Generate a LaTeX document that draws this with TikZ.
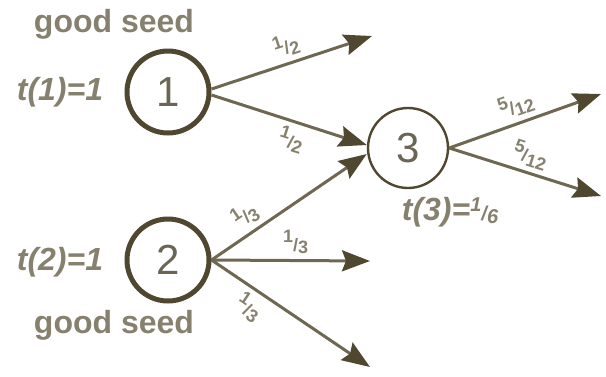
\documentclass[tikz,border=0pt]{standalone}
\usepackage{fontspec}
\setmainfont{Liberation Sans}
\usetikzlibrary{arrows.meta}
\definecolor{ink}{HTML}{4F4730}
\definecolor{lineC}{HTML}{6E6752}
\definecolor{txt}{HTML}{86806E}
\definecolor{num}{HTML}{6A6554}
\newcommand{\myfr}[2]{\raisebox{0.45em}{#1}/\raisebox{-0.15em}{#2}}
\tikzset{
  seed/.style={circle, draw=ink, line width=5pt, minimum size=82pt, inner sep=0pt,
    font=\fontsize{42}{42}\selectfont, text=num},
  plain/.style={circle, draw=ink, line width=2.4pt, minimum size=80pt, inner sep=0pt,
    font=\fontsize{42}{42}\selectfont, text=num},
  edge/.style={draw=lineC, line width=3pt,
    -{Stealth[length=28pt,width=21pt,inset=4pt,fill=ink,color=ink]}},
  lbl/.style={font=\bfseries\fontsize{32}{32}\selectfont, text=txt, inner sep=0pt},
  tl/.style={font=\bfseries\itshape\fontsize{32}{32}\selectfont, text=txt, inner sep=0pt},
  fr/.style={font=\bfseries\fontsize{18}{18}\selectfont, text=txt, inner sep=2pt, sloped}
}
\begin{document}
\begin{tikzpicture}[x=1pt,y=-1pt]
\useasboundingbox (0,0) rectangle (606,376);
\node[seed] (n1) at (168,92) {1};
\node[seed] (n2) at (168,260) {2};
\node[plain] (n3) at (408,148) {3};
\node[lbl] (g1) at (114,24) {good seed};
\node[lbl] (g2) at (114,325) {good seed};
\node[tl] (t1) at (60,92) {t(1)=1};
\node[tl] (t2) at (60,262) {t(2)=1};
\node[tl] (t3) at (450,212) {t(3)={\fontsize{20}{20}\selectfont\myfr{1}{6}}};
\coordinate (e1) at (372,36);
\coordinate (e2) at (370,261);
\coordinate (e3) at (370,367);
\coordinate (e4) at (601,94);
\coordinate (e5) at (601,196);
\draw[edge] ([yshift=3pt]n1.east) -- (e1) node[fr,pos=0.5,above=3pt] {\myfr{1}{2}};
\draw[edge] ([yshift=-3pt]n1.east) -- ([yshift=3pt]n3.west) node[fr,pos=0.55,below=3pt] {\myfr{1}{2}};
\draw[edge] (n2.east) -- ([yshift=-6pt]n3.west) node[fr,pos=0.28,above=3pt] {\myfr{1}{3}};
\draw[edge] (n2.east) -- (e2) node[fr,pos=0.53,above=3pt] {\myfr{1}{3}};
\draw[edge] (n2.east) -- (e3) node[fr,pos=0.3,below=3pt] {\myfr{1}{3}};
\draw[edge] (n3.east) -- (e4) node[fr,pos=0.48,above=3pt] {\myfr{5}{12}};
\draw[edge] (n3.east) -- (e5) node[fr,pos=0.5,above=3pt] {\myfr{5}{12}};
\end{tikzpicture}
\end{document}
